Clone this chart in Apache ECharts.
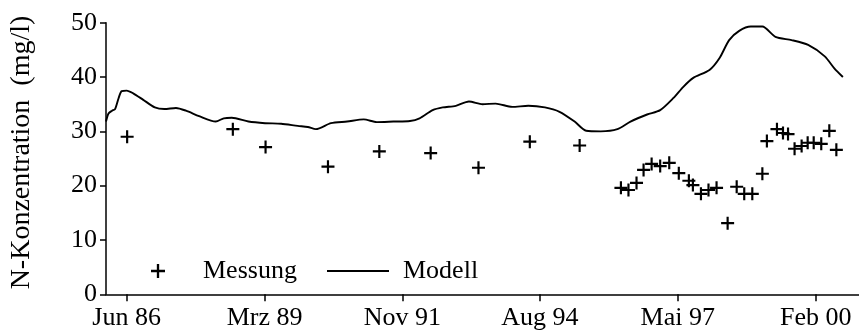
<!DOCTYPE html>
<html>
<head>
<meta charset="utf-8">
<script src="https://cdn.jsdelivr.net/npm/echarts@6/dist/echarts.min.js"></script>
<style>
html,body{margin:0;padding:0;background:#fff;}
#chart{width:859px;height:336px;}
</style>
</head>
<body>
<div id="chart"></div>
<script>
// X axis tick labels and their positions (decimal years)
const tickLabels = ['Jun 86', 'Mrz 89', 'Nov 91', 'Aug 94', 'Mai 97', 'Feb 00'];
const tickPositions = [1986.45, 1989.19, 1991.93, 1994.66, 1997.40, 2000.14];

// Messung (measurements): time (decimal year) and N-Konzentration (mg/l)
const messungX = [1986.46, 1988.56, 1989.21, 1990.45, 1991.47, 1992.49, 1993.44, 1994.46, 1995.45,
  1996.27, 1996.42, 1996.58, 1996.72, 1996.88, 1997.05, 1997.23, 1997.42, 1997.62, 1997.70,
  1997.86, 1998.01, 1998.17, 1998.39, 1998.57, 1998.72, 1998.88, 1999.08, 1999.17, 1999.37,
  1999.49, 1999.59, 1999.72, 1999.86, 1999.98, 2000.10, 2000.25, 2000.41, 2000.55];
const messungY = [29.0, 30.4, 27.1, 23.5, 26.3, 26.0, 23.3, 28.1, 27.4,
  19.6, 19.2, 20.5, 22.9, 24.0, 23.6, 24.2, 22.3, 20.9, 20.1,
  18.5, 19.2, 19.6, 13.1, 19.8, 18.5, 18.5, 22.2, 28.2, 30.4,
  29.7, 29.5, 26.8, 27.3, 27.9, 27.9, 27.7, 30.1, 26.6];

// Modell (model curve)
const modellX = [1986.04, 1986.09, 1986.16, 1986.22, 1986.29, 1986.35, 1986.45, 1986.58, 1986.78,
  1987.01, 1987.20, 1987.43, 1987.63, 1987.89, 1988.22, 1988.38, 1988.54, 1988.87, 1989.20,
  1989.52, 1989.85, 1990.05, 1990.21, 1990.51, 1990.83, 1991.16, 1991.42, 1991.75, 1992.08,
  1992.27, 1992.53, 1992.73, 1992.99, 1993.25, 1993.52, 1993.78, 1994.11, 1994.43, 1994.76,
  1995.05, 1995.35, 1995.58, 1995.87, 1996.20, 1996.46, 1996.79, 1997.05, 1997.31, 1997.51,
  1997.70, 1998.03, 1998.23, 1998.42, 1998.62, 1998.85, 1999.08, 1999.34, 1999.66, 1999.99,
  2000.32, 2000.51, 2000.68];
const modellY = [31.8, 33.3, 33.8, 34.1, 36.1, 37.4, 37.5, 37.0, 35.8,
  34.4, 34.1, 34.3, 33.8, 32.8, 31.8, 32.4, 32.5, 31.8, 31.5,
  31.4, 31.0, 30.8, 30.4, 31.5, 31.8, 32.2, 31.7, 31.8, 31.9,
  32.4, 33.9, 34.4, 34.7, 35.5, 35.0, 35.1, 34.5, 34.7, 34.4,
  33.6, 31.8, 30.1, 30.0, 30.4, 31.8, 33.1, 33.9, 36.1, 38.2,
  39.8, 41.3, 43.5, 46.8, 48.5, 49.3, 49.3, 47.4, 46.8, 45.9,
  43.8, 41.6, 40.0];

const yTicks = [0, 10, 20, 30, 40, 50];

const FONT = '"Liberation Serif", "DejaVu Serif", serif';
const plusPath = 'path://M5,0H7V5H12V7H7V12H5V7H0V5H5Z';

const chart = echarts.init(document.getElementById('chart'), null, {renderer: 'canvas'});

function labelFor(v) {
  let best = 0, bd = Infinity;
  tickPositions.forEach((p, i) => { const d = Math.abs(p - v); if (d < bd) { bd = d; best = i; } });
  return tickLabels[best];
}

const option = {
  animation: false,
  backgroundColor: '#fff',
  grid: {left: 106, top: 22.7, width: 762, height: 271.6, containLabel: false},
  legend: [
    {
      data: [{name: 'Messung', icon: plusPath}],
      left: 146, top: 253,
      itemWidth: 14, itemHeight: 14,
      selectedMode: false,
      textStyle: {fontFamily: FONT, fontSize: 26, color: '#000', padding: [0, 0, 0, 33]}
    },
    {
      data: [{name: 'Modell', icon: 'rect'}],
      left: 322, top: 253,
      itemWidth: 62, itemHeight: 2,
      selectedMode: false,
      textStyle: {fontFamily: FONT, fontSize: 26, color: '#000', padding: [0, 0, 0, 9]}
    }
  ],
  xAxis: {
    type: 'value',
    min: 1986.04,
    max: 2001.0,
    splitLine: {show: false},
    axisLine: {show: true, onZero: false, lineStyle: {color: '#000', width: 1.5}},
    axisTick: {show: true, length: 7, lineStyle: {color: '#000', width: 1.5}, customValues: tickPositions},
    axisLabel: {
      show: true, margin: 11, color: '#000', fontFamily: FONT, fontSize: 26,
      customValues: tickPositions,
      formatter: (v) => labelFor(v)
    }
  },
  yAxis: {
    type: 'value',
    min: 0, max: 50, interval: 10,
    splitLine: {show: false},
    axisLine: {show: true, lineStyle: {color: '#000', width: 1.5}},
    axisTick: {show: true, length: 6, lineStyle: {color: '#000', width: 1.5}},
    axisLabel: {margin: 9, color: '#000', fontFamily: FONT, fontSize: 26},
    name: 'N-Konzentration  (mg/l)',
    nameLocation: 'middle',
    nameGap: 70,
    nameRotate: 90,
    nameTextStyle: {fontFamily: FONT, fontSize: 28, color: '#000', padding: [0, 0, 0, 12]}
  },
  series: [
    {
      name: 'Modell',
      type: 'line',
      data: modellX.map((x, i) => [x, modellY[i]]),
      showSymbol: false,
      symbol: 'none',
      smooth: 0.25,
      color: '#000',
      itemStyle: {color: '#000'},
      lineStyle: {color: '#000', width: 1.9},
      z: 2
    },
    {
      name: 'Messung',
      type: 'scatter',
      data: messungX.map((x, i) => [x, messungY[i]]),
      symbol: plusPath,
      symbolSize: 13,
      color: '#000',
      itemStyle: {color: '#000', opacity: 1},
      z: 3
    }
  ]
};
chart.setOption(option);
</script>
</body>
</html>
